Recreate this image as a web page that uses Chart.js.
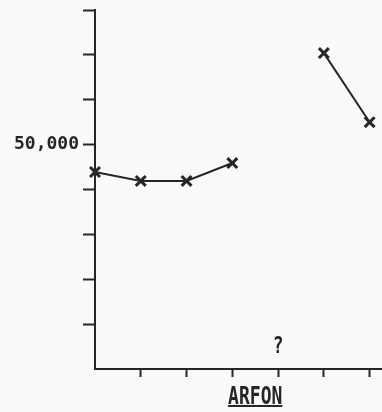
<!DOCTYPE html>
<html>
<head>
<meta charset="utf-8">
<script src="https://cdn.jsdelivr.net/npm/chart.js@4/dist/chart.umd.min.js"></script>
<style>
  html, body { margin: 0; padding: 0; background: #fafafa; }
  #wrap { width: 382px; height: 412px; position: relative; }
</style>
</head>
<body>
<div id="wrap"><canvas id="c" width="382" height="412"></canvas></div>
<script>
// ---- data ----
const categories = [0, 1, 2, 3, 4, 5, 6];
const values = [43900, 41900, 41900, 45900, null, 70400, 55000];
const yTickLabels = { 50000: '50,000' };
const placeLabel = 'ARFON';
const placeLabelAt = 3.5;
const unknownLabel = '?';
const unknownAt = 4;

const ink = '#262626';

const textPlugin = {
  id: 'textPlugin',
  afterDraw(chart) {
    const ctx = chart.ctx;
    const xs = chart.scales.x, ys = chart.scales.y;
    ctx.save();
    ctx.fillStyle = ink;
    ctx.strokeStyle = ink;
    ctx.font = 'bold 18px "DejaVu Sans Mono"';
    ctx.textAlign = 'center';
    ctx.textBaseline = 'alphabetic';
    const qx = xs.getPixelForValue(unknownAt);
    ctx.save();
    ctx.translate(qx, ys.bottom - 16);
    ctx.scale(1, 1.3);
    ctx.fillText(unknownLabel, 0, 0);
    ctx.restore();
    const px = xs.getPixelForValue(placeLabelAt);
    const w = ctx.measureText(placeLabel).width;
    ctx.save();
    ctx.translate(px, ys.bottom + 35);
    ctx.scale(1, 1.4);
    ctx.fillText(placeLabel, 0, 0);
    ctx.restore();
    ctx.lineWidth = 2;
    ctx.beginPath();
    ctx.moveTo(px - w / 2, ys.bottom + 37);
    ctx.lineTo(px + w / 2, ys.bottom + 37);
    ctx.stroke();
    ctx.restore();
  }
};

new Chart(document.getElementById('c'), {
  type: 'line',
  data: {
    datasets: [{
      data: categories.map((c, i) => ({ x: c, y: values[i] })),
      borderColor: ink,
      borderWidth: 2,
      pointStyle: 'crossRot',
      pointRadius: 7,
      pointBorderWidth: 3,
      pointBorderColor: ink,
      spanGaps: false,
      tension: 0,
      clip: false
    }]
  },
  options: {
    responsive: false,
    animation: false,
    layout: { autoPadding: false, padding: { top: 10, right: 0, left: 0, bottom: 0 } },
    plugins: { legend: { display: false }, tooltip: { enabled: false } },
    scales: {
      x: {
        type: 'linear',
        min: 0,
        max: 6.27,
        afterFit(s) { s.height = 43; s.paddingLeft = 0; s.paddingRight = 0; },
        border: { display: true, color: ink, width: 2 },
        grid: {
          drawOnChartArea: false,
          drawTicks: true,
          tickLength: 8,
          tickWidth: 2,
          tickColor: (c) => (c.tick && c.tick.value === 0) ? 'rgba(0,0,0,0)' : ink
        },
        ticks: {
          display: false,
          stepSize: 1,
          includeBounds: false
        }
      },
      y: {
        min: 0,
        max: 80000,
        afterFit(s) { s.width = 95; s.paddingTop = 0; s.paddingBottom = 0; },
        border: { display: true, color: ink, width: 2 },
        grid: {
          drawOnChartArea: false,
          drawTicks: true,
          tickLength: 12,
          tickWidth: 2,
          tickColor: (c) => (c.tick && c.tick.value === 0) ? 'rgba(0,0,0,0)' : ink
        },
        ticks: {
          stepSize: 10000,
          padding: 4,
          color: ink,
          font: { family: '"DejaVu Sans Mono"', size: 18, weight: 'bold' },
          callback: (v) => yTickLabels[v] || ''
        }
      }
    }
  },
  plugins: [textPlugin]
});
</script>
</body>
</html>
